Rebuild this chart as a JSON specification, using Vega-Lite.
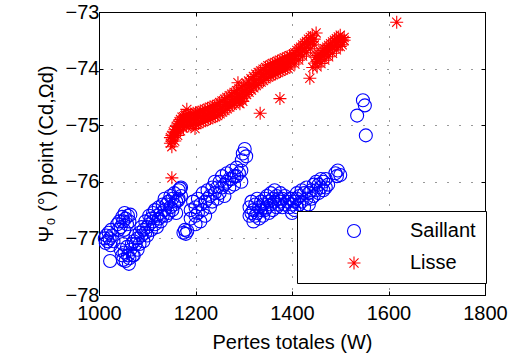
{
 "$schema": "https://vega.github.io/schema/vega-lite/v6.json",
 "width": 386, "height": 283,
 "autosize": "none",
 "padding": {"left": 99, "top": 12, "right": 33, "bottom": 63},
 "config": {
  "view": {"stroke": "#000", "strokeWidth": 1},
  "font": "Liberation Sans",
  "axis": {"labelFont": "Liberation Sans", "labelFontSize": 20, "labelColor": "#000", "titleFont": "Liberation Sans", "titleFontSize": 20, "titleFontWeight": "normal", "titleColor": "#000", "domainColor": "#000", "tickColor": "#000", "gridColor": "#000", "gridDash": [1, 11], "gridOpacity": 0.8, "labelFlush": false, "labelOverlap": false}
 },
 "data": {"values": [
  {"x":1012,"y":-77.0,"g":"Saillant"},{"x":1015,"y":-76.95,"g":"Saillant"},{"x":1018,"y":-77.05,"g":"Saillant"},{"x":1020,"y":-76.9,"g":"Saillant"},{"x":1022,"y":-77.0,"g":"Saillant"},{"x":1025,"y":-76.85,"g":"Saillant"},{"x":1027,"y":-76.95,"g":"Saillant"},{"x":1030,"y":-77.05,"g":"Saillant"},{"x":1014,"y":-77.08,"g":"Saillant"},{"x":1024,"y":-77.12,"g":"Saillant"},{"x":1023,"y":-77.4,"g":"Saillant"},
  {"x":1038,"y":-76.75,"g":"Saillant"},{"x":1042,"y":-76.7,"g":"Saillant"},{"x":1045,"y":-76.8,"g":"Saillant"},{"x":1048,"y":-76.62,"g":"Saillant"},{"x":1050,"y":-76.7,"g":"Saillant"},{"x":1053,"y":-76.55,"g":"Saillant"},{"x":1055,"y":-76.65,"g":"Saillant"},{"x":1058,"y":-76.75,"g":"Saillant"},{"x":1060,"y":-76.6,"g":"Saillant"},{"x":1063,"y":-76.7,"g":"Saillant"},{"x":1065,"y":-76.58,"g":"Saillant"},{"x":1040,"y":-76.85,"g":"Saillant"},{"x":1052,"y":-76.85,"g":"Saillant"},
  {"x":1045,"y":-77.2,"g":"Saillant"},{"x":1048,"y":-77.3,"g":"Saillant"},{"x":1050,"y":-77.1,"g":"Saillant"},{"x":1053,"y":-77.25,"g":"Saillant"},{"x":1055,"y":-77.4,"g":"Saillant"},{"x":1058,"y":-77.15,"g":"Saillant"},{"x":1060,"y":-77.3,"g":"Saillant"},{"x":1063,"y":-77.35,"g":"Saillant"},{"x":1065,"y":-77.2,"g":"Saillant"},{"x":1068,"y":-77.1,"g":"Saillant"},{"x":1070,"y":-77.3,"g":"Saillant"},{"x":1050,"y":-77.38,"g":"Saillant"},{"x":1062,"y":-77.45,"g":"Saillant"},
  {"x":1072,"y":-77.05,"g":"Saillant"},{"x":1072,"y":-77.3,"g":"Saillant"},{"x":1076,"y":-77.1,"g":"Saillant"},{"x":1076,"y":-76.95,"g":"Saillant"},{"x":1080,"y":-77.2,"g":"Saillant"},{"x":1080,"y":-77.0,"g":"Saillant"},{"x":1084,"y":-76.9,"g":"Saillant"},{"x":1084,"y":-77.1,"g":"Saillant"},{"x":1088,"y":-76.95,"g":"Saillant"},{"x":1088,"y":-76.8,"g":"Saillant"},{"x":1092,"y":-77.05,"g":"Saillant"},{"x":1092,"y":-76.85,"g":"Saillant"},{"x":1096,"y":-76.7,"g":"Saillant"},{"x":1096,"y":-76.9,"g":"Saillant"},{"x":1100,"y":-76.8,"g":"Saillant"},{"x":1100,"y":-76.95,"g":"Saillant"},{"x":1104,"y":-76.6,"g":"Saillant"},{"x":1104,"y":-76.75,"g":"Saillant"},{"x":1108,"y":-76.85,"g":"Saillant"},{"x":1108,"y":-76.65,"g":"Saillant"},{"x":1112,"y":-76.55,"g":"Saillant"},{"x":1112,"y":-76.7,"g":"Saillant"},{"x":1116,"y":-76.75,"g":"Saillant"},{"x":1116,"y":-76.5,"g":"Saillant"},{"x":1120,"y":-76.6,"g":"Saillant"},{"x":1120,"y":-76.8,"g":"Saillant"},{"x":1124,"y":-76.45,"g":"Saillant"},{"x":1124,"y":-76.65,"g":"Saillant"},{"x":1128,"y":-76.55,"g":"Saillant"},{"x":1128,"y":-76.7,"g":"Saillant"},{"x":1132,"y":-76.4,"g":"Saillant"},{"x":1132,"y":-76.6,"g":"Saillant"},{"x":1136,"y":-76.5,"g":"Saillant"},{"x":1136,"y":-76.3,"g":"Saillant"},{"x":1140,"y":-76.6,"g":"Saillant"},{"x":1140,"y":-76.4,"g":"Saillant"},{"x":1144,"y":-76.35,"g":"Saillant"},{"x":1144,"y":-76.55,"g":"Saillant"},{"x":1148,"y":-76.45,"g":"Saillant"},{"x":1148,"y":-76.25,"g":"Saillant"},{"x":1152,"y":-76.3,"g":"Saillant"},{"x":1152,"y":-76.5,"g":"Saillant"},{"x":1156,"y":-76.2,"g":"Saillant"},{"x":1156,"y":-76.4,"g":"Saillant"},{"x":1160,"y":-76.35,"g":"Saillant"},{"x":1160,"y":-76.55,"g":"Saillant"},{"x":1165,"y":-76.15,"g":"Saillant"},{"x":1165,"y":-76.3,"g":"Saillant"},{"x":1170,"y":-76.1,"g":"Saillant"},{"x":1170,"y":-76.25,"g":"Saillant"},{"x":1164,"y":-76.33,"g":"Saillant"},{"x":1168,"y":-76.12,"g":"Saillant"},
  {"x":1175,"y":-76.9,"g":"Saillant"},{"x":1180,"y":-76.92,"g":"Saillant"},{"x":1183,"y":-76.87,"g":"Saillant"},{"x":1178,"y":-76.85,"g":"Saillant"},
  {"x":1190,"y":-76.5,"g":"Saillant"},{"x":1190,"y":-76.65,"g":"Saillant"},{"x":1195,"y":-76.35,"g":"Saillant"},{"x":1200,"y":-76.6,"g":"Saillant"},{"x":1200,"y":-76.75,"g":"Saillant"},{"x":1200,"y":-76.45,"g":"Saillant"},{"x":1205,"y":-76.3,"g":"Saillant"},{"x":1205,"y":-76.55,"g":"Saillant"},{"x":1210,"y":-76.7,"g":"Saillant"},{"x":1210,"y":-76.4,"g":"Saillant"},{"x":1215,"y":-76.2,"g":"Saillant"},{"x":1215,"y":-76.5,"g":"Saillant"},{"x":1220,"y":-76.35,"g":"Saillant"},{"x":1220,"y":-76.6,"g":"Saillant"},{"x":1225,"y":-76.15,"g":"Saillant"},{"x":1225,"y":-76.3,"g":"Saillant"},{"x":1230,"y":-76.45,"g":"Saillant"},{"x":1230,"y":-76.25,"g":"Saillant"},{"x":1235,"y":-76.1,"g":"Saillant"},{"x":1235,"y":-76.35,"g":"Saillant"},{"x":1240,"y":-76.2,"g":"Saillant"},{"x":1240,"y":-76.0,"g":"Saillant"},{"x":1245,"y":-76.3,"g":"Saillant"},{"x":1245,"y":-76.1,"g":"Saillant"},{"x":1250,"y":-76.0,"g":"Saillant"},{"x":1250,"y":-76.2,"g":"Saillant"},{"x":1255,"y":-75.9,"g":"Saillant"},{"x":1255,"y":-76.1,"g":"Saillant"},{"x":1260,"y":-76.05,"g":"Saillant"},{"x":1260,"y":-76.25,"g":"Saillant"},{"x":1265,"y":-75.85,"g":"Saillant"},{"x":1265,"y":-76.0,"g":"Saillant"},{"x":1270,"y":-75.95,"g":"Saillant"},{"x":1270,"y":-76.1,"g":"Saillant"},{"x":1275,"y":-75.8,"g":"Saillant"},{"x":1275,"y":-75.95,"g":"Saillant"},{"x":1280,"y":-75.9,"g":"Saillant"},{"x":1280,"y":-76.05,"g":"Saillant"},{"x":1285,"y":-75.75,"g":"Saillant"},{"x":1285,"y":-75.9,"g":"Saillant"},{"x":1290,"y":-75.85,"g":"Saillant"},{"x":1295,"y":-75.8,"g":"Saillant"},{"x":1295,"y":-76.0,"g":"Saillant"},
  {"x":1298,"y":-75.5,"g":"Saillant"},{"x":1302,"y":-75.42,"g":"Saillant"},{"x":1305,"y":-75.55,"g":"Saillant"},{"x":1296,"y":-75.62,"g":"Saillant"},
  {"x":1312,"y":-76.45,"g":"Saillant"},{"x":1312,"y":-76.6,"g":"Saillant"},{"x":1316,"y":-76.35,"g":"Saillant"},{"x":1316,"y":-76.55,"g":"Saillant"},{"x":1320,"y":-76.5,"g":"Saillant"},{"x":1320,"y":-76.7,"g":"Saillant"},{"x":1324,"y":-76.4,"g":"Saillant"},{"x":1324,"y":-76.6,"g":"Saillant"},{"x":1328,"y":-76.3,"g":"Saillant"},{"x":1328,"y":-76.55,"g":"Saillant"},{"x":1332,"y":-76.45,"g":"Saillant"},{"x":1332,"y":-76.65,"g":"Saillant"},{"x":1336,"y":-76.5,"g":"Saillant"},{"x":1336,"y":-76.35,"g":"Saillant"},{"x":1340,"y":-76.6,"g":"Saillant"},{"x":1340,"y":-76.4,"g":"Saillant"},{"x":1344,"y":-76.3,"g":"Saillant"},{"x":1344,"y":-76.5,"g":"Saillant"},{"x":1348,"y":-76.45,"g":"Saillant"},{"x":1348,"y":-76.25,"g":"Saillant"},{"x":1352,"y":-76.35,"g":"Saillant"},{"x":1352,"y":-76.55,"g":"Saillant"},{"x":1356,"y":-76.4,"g":"Saillant"},{"x":1356,"y":-76.2,"g":"Saillant"},{"x":1360,"y":-76.3,"g":"Saillant"},{"x":1360,"y":-76.5,"g":"Saillant"},{"x":1364,"y":-76.35,"g":"Saillant"},{"x":1364,"y":-76.15,"g":"Saillant"},{"x":1368,"y":-76.45,"g":"Saillant"},{"x":1368,"y":-76.25,"g":"Saillant"},{"x":1372,"y":-76.3,"g":"Saillant"},{"x":1372,"y":-76.4,"g":"Saillant"},{"x":1376,"y":-76.2,"g":"Saillant"},{"x":1376,"y":-76.35,"g":"Saillant"},{"x":1380,"y":-76.3,"g":"Saillant"},{"x":1380,"y":-76.45,"g":"Saillant"},{"x":1385,"y":-76.25,"g":"Saillant"},{"x":1385,"y":-76.4,"g":"Saillant"},{"x":1390,"y":-76.35,"g":"Saillant"},{"x":1395,"y":-76.3,"g":"Saillant"},{"x":1395,"y":-76.45,"g":"Saillant"},
  {"x":1400,"y":-76.4,"g":"Saillant"},{"x":1400,"y":-76.55,"g":"Saillant"},{"x":1400,"y":-76.3,"g":"Saillant"},{"x":1405,"y":-76.5,"g":"Saillant"},{"x":1405,"y":-76.35,"g":"Saillant"},{"x":1410,"y":-76.3,"g":"Saillant"},{"x":1410,"y":-76.45,"g":"Saillant"},{"x":1410,"y":-76.2,"g":"Saillant"},{"x":1415,"y":-76.4,"g":"Saillant"},{"x":1415,"y":-76.25,"g":"Saillant"},{"x":1420,"y":-76.35,"g":"Saillant"},{"x":1420,"y":-76.15,"g":"Saillant"},{"x":1425,"y":-76.2,"g":"Saillant"},{"x":1425,"y":-76.45,"g":"Saillant"},{"x":1430,"y":-76.3,"g":"Saillant"},{"x":1430,"y":-76.1,"g":"Saillant"},{"x":1435,"y":-76.2,"g":"Saillant"},{"x":1435,"y":-76.4,"g":"Saillant"},{"x":1440,"y":-76.15,"g":"Saillant"},{"x":1440,"y":-76.3,"g":"Saillant"},{"x":1445,"y":-76.05,"g":"Saillant"},{"x":1445,"y":-76.25,"g":"Saillant"},{"x":1450,"y":-76.15,"g":"Saillant"},{"x":1450,"y":-76.0,"g":"Saillant"},{"x":1455,"y":-76.2,"g":"Saillant"},{"x":1455,"y":-76.05,"g":"Saillant"},{"x":1460,"y":-76.1,"g":"Saillant"},{"x":1460,"y":-75.95,"g":"Saillant"},{"x":1465,"y":-76.0,"g":"Saillant"},{"x":1465,"y":-76.15,"g":"Saillant"},{"x":1470,"y":-75.95,"g":"Saillant"},{"x":1470,"y":-76.1,"g":"Saillant"},{"x":1475,"y":-76.05,"g":"Saillant"},
  {"x":1490,"y":-75.85,"g":"Saillant"},{"x":1495,"y":-75.8,"g":"Saillant"},{"x":1500,"y":-75.88,"g":"Saillant"},{"x":1493,"y":-75.9,"g":"Saillant"},
  {"x":1547,"y":-74.56,"g":"Saillant"},{"x":1551,"y":-74.65,"g":"Saillant"},{"x":1535,"y":-74.83,"g":"Saillant"},{"x":1553,"y":-75.18,"g":"Saillant"},
  {"x":1148,"y":-75.32,"g":"Lisse"},{"x":1148,"y":-75.22,"g":"Lisse"},{"x":1151,"y":-75.28,"g":"Lisse"},{"x":1151,"y":-75.18,"g":"Lisse"},{"x":1151,"y":-75.38,"g":"Lisse"},{"x":1154,"y":-75.22,"g":"Lisse"},{"x":1154,"y":-75.12,"g":"Lisse"},{"x":1157,"y":-75.18,"g":"Lisse"},{"x":1157,"y":-75.08,"g":"Lisse"},{"x":1157,"y":-75.28,"g":"Lisse"},{"x":1160,"y":-75.12,"g":"Lisse"},{"x":1160,"y":-75.02,"g":"Lisse"},{"x":1163,"y":-75.08,"g":"Lisse"},{"x":1163,"y":-74.98,"g":"Lisse"},{"x":1163,"y":-75.18,"g":"Lisse"},{"x":1166,"y":-75.04,"g":"Lisse"},{"x":1166,"y":-74.94,"g":"Lisse"},{"x":1169,"y":-75.0,"g":"Lisse"},{"x":1169,"y":-74.9,"g":"Lisse"},{"x":1169,"y":-75.1,"g":"Lisse"},{"x":1172,"y":-74.96,"g":"Lisse"},{"x":1172,"y":-74.86,"g":"Lisse"},{"x":1175,"y":-74.95,"g":"Lisse"},{"x":1175,"y":-74.85,"g":"Lisse"},{"x":1175,"y":-75.05,"g":"Lisse"},{"x":1178,"y":-74.93,"g":"Lisse"},{"x":1178,"y":-74.83,"g":"Lisse"},
  {"x":1180,"y":-74.82,"g":"Lisse"},{"x":1182,"y":-74.92,"g":"Lisse"},{"x":1181,"y":-75.02,"g":"Lisse"},
  {"x":1185,"y":-74.81,"g":"Lisse"},{"x":1187,"y":-74.91,"g":"Lisse"},{"x":1186,"y":-75.01,"g":"Lisse"},
  {"x":1190,"y":-74.8,"g":"Lisse"},{"x":1192,"y":-74.9,"g":"Lisse"},{"x":1191,"y":-75.0,"g":"Lisse"},
  {"x":1195,"y":-74.79,"g":"Lisse"},{"x":1197,"y":-74.89,"g":"Lisse"},{"x":1196,"y":-74.99,"g":"Lisse"},
  {"x":1200,"y":-74.78,"g":"Lisse"},{"x":1202,"y":-74.88,"g":"Lisse"},{"x":1201,"y":-74.98,"g":"Lisse"},
  {"x":1205,"y":-74.77,"g":"Lisse"},{"x":1207,"y":-74.87,"g":"Lisse"},{"x":1206,"y":-74.97,"g":"Lisse"},
  {"x":1210,"y":-74.75,"g":"Lisse"},{"x":1212,"y":-74.85,"g":"Lisse"},{"x":1211,"y":-74.95,"g":"Lisse"},
  {"x":1215,"y":-74.74,"g":"Lisse"},{"x":1217,"y":-74.84,"g":"Lisse"},{"x":1216,"y":-74.94,"g":"Lisse"},
  {"x":1220,"y":-74.72,"g":"Lisse"},{"x":1222,"y":-74.82,"g":"Lisse"},{"x":1221,"y":-74.92,"g":"Lisse"},
  {"x":1225,"y":-74.7,"g":"Lisse"},{"x":1227,"y":-74.8,"g":"Lisse"},{"x":1226,"y":-74.9,"g":"Lisse"},
  {"x":1230,"y":-74.68,"g":"Lisse"},{"x":1232,"y":-74.78,"g":"Lisse"},{"x":1231,"y":-74.88,"g":"Lisse"},
  {"x":1235,"y":-74.67,"g":"Lisse"},{"x":1237,"y":-74.77,"g":"Lisse"},{"x":1236,"y":-74.87,"g":"Lisse"},
  {"x":1240,"y":-74.65,"g":"Lisse"},{"x":1242,"y":-74.75,"g":"Lisse"},{"x":1241,"y":-74.85,"g":"Lisse"},
  {"x":1245,"y":-74.63,"g":"Lisse"},{"x":1247,"y":-74.73,"g":"Lisse"},{"x":1246,"y":-74.83,"g":"Lisse"},
  {"x":1250,"y":-74.6,"g":"Lisse"},{"x":1252,"y":-74.7,"g":"Lisse"},{"x":1251,"y":-74.8,"g":"Lisse"},
  {"x":1255,"y":-74.57,"g":"Lisse"},{"x":1257,"y":-74.67,"g":"Lisse"},{"x":1256,"y":-74.77,"g":"Lisse"},
  {"x":1260,"y":-74.54,"g":"Lisse"},{"x":1262,"y":-74.64,"g":"Lisse"},{"x":1261,"y":-74.74,"g":"Lisse"},
  {"x":1265,"y":-74.51,"g":"Lisse"},{"x":1267,"y":-74.61,"g":"Lisse"},{"x":1266,"y":-74.71,"g":"Lisse"},
  {"x":1270,"y":-74.48,"g":"Lisse"},{"x":1272,"y":-74.58,"g":"Lisse"},{"x":1271,"y":-74.68,"g":"Lisse"},
  {"x":1275,"y":-74.45,"g":"Lisse"},{"x":1277,"y":-74.55,"g":"Lisse"},{"x":1276,"y":-74.65,"g":"Lisse"},
  {"x":1280,"y":-74.42,"g":"Lisse"},{"x":1282,"y":-74.52,"g":"Lisse"},{"x":1281,"y":-74.62,"g":"Lisse"},
  {"x":1285,"y":-74.39,"g":"Lisse"},{"x":1287,"y":-74.49,"g":"Lisse"},{"x":1286,"y":-74.59,"g":"Lisse"},
  {"x":1290,"y":-74.36,"g":"Lisse"},{"x":1292,"y":-74.46,"g":"Lisse"},{"x":1291,"y":-74.56,"g":"Lisse"},
  {"x":1295,"y":-74.33,"g":"Lisse"},{"x":1297,"y":-74.43,"g":"Lisse"},{"x":1296,"y":-74.53,"g":"Lisse"},
  {"x":1300,"y":-74.3,"g":"Lisse"},{"x":1302,"y":-74.4,"g":"Lisse"},{"x":1301,"y":-74.5,"g":"Lisse"},
  {"x":1292,"y":-74.62,"g":"Lisse"},{"x":1298,"y":-74.58,"g":"Lisse"},{"x":1288,"y":-74.25,"g":"Lisse"},
  {"x":1305,"y":-74.26,"g":"Lisse"},{"x":1307,"y":-74.36,"g":"Lisse"},{"x":1306,"y":-74.46,"g":"Lisse"},
  {"x":1310,"y":-74.22,"g":"Lisse"},{"x":1312,"y":-74.32,"g":"Lisse"},{"x":1311,"y":-74.42,"g":"Lisse"},
  {"x":1315,"y":-74.18,"g":"Lisse"},{"x":1317,"y":-74.28,"g":"Lisse"},{"x":1316,"y":-74.38,"g":"Lisse"},
  {"x":1320,"y":-74.14,"g":"Lisse"},{"x":1322,"y":-74.24,"g":"Lisse"},{"x":1321,"y":-74.34,"g":"Lisse"},
  {"x":1325,"y":-74.1,"g":"Lisse"},{"x":1327,"y":-74.2,"g":"Lisse"},{"x":1326,"y":-74.3,"g":"Lisse"},
  {"x":1330,"y":-74.07,"g":"Lisse"},{"x":1332,"y":-74.17,"g":"Lisse"},{"x":1331,"y":-74.27,"g":"Lisse"},
  {"x":1335,"y":-74.04,"g":"Lisse"},{"x":1337,"y":-74.14,"g":"Lisse"},{"x":1336,"y":-74.24,"g":"Lisse"},
  {"x":1340,"y":-74.01,"g":"Lisse"},{"x":1342,"y":-74.11,"g":"Lisse"},{"x":1341,"y":-74.21,"g":"Lisse"},
  {"x":1345,"y":-73.98,"g":"Lisse"},{"x":1347,"y":-74.08,"g":"Lisse"},{"x":1346,"y":-74.18,"g":"Lisse"},
  {"x":1350,"y":-73.95,"g":"Lisse"},{"x":1352,"y":-74.05,"g":"Lisse"},{"x":1351,"y":-74.15,"g":"Lisse"},
  {"x":1355,"y":-73.93,"g":"Lisse"},{"x":1357,"y":-74.03,"g":"Lisse"},{"x":1356,"y":-74.13,"g":"Lisse"},
  {"x":1360,"y":-73.91,"g":"Lisse"},{"x":1362,"y":-74.01,"g":"Lisse"},{"x":1361,"y":-74.11,"g":"Lisse"},
  {"x":1365,"y":-73.89,"g":"Lisse"},{"x":1367,"y":-73.99,"g":"Lisse"},{"x":1366,"y":-74.09,"g":"Lisse"},
  {"x":1370,"y":-73.87,"g":"Lisse"},{"x":1372,"y":-73.97,"g":"Lisse"},{"x":1371,"y":-74.07,"g":"Lisse"},
  {"x":1375,"y":-73.85,"g":"Lisse"},{"x":1377,"y":-73.95,"g":"Lisse"},{"x":1376,"y":-74.05,"g":"Lisse"},
  {"x":1380,"y":-73.83,"g":"Lisse"},{"x":1382,"y":-73.93,"g":"Lisse"},{"x":1381,"y":-74.03,"g":"Lisse"},
  {"x":1385,"y":-73.81,"g":"Lisse"},{"x":1387,"y":-73.91,"g":"Lisse"},{"x":1386,"y":-74.01,"g":"Lisse"},
  {"x":1390,"y":-73.79,"g":"Lisse"},{"x":1392,"y":-73.89,"g":"Lisse"},{"x":1391,"y":-73.99,"g":"Lisse"},
  {"x":1395,"y":-73.77,"g":"Lisse"},{"x":1397,"y":-73.87,"g":"Lisse"},{"x":1396,"y":-73.97,"g":"Lisse"},
  {"x":1398,"y":-73.78,"g":"Lisse"},{"x":1402,"y":-73.85,"g":"Lisse"},{"x":1402,"y":-73.75,"g":"Lisse"},{"x":1406,"y":-73.82,"g":"Lisse"},{"x":1406,"y":-73.72,"g":"Lisse"},{"x":1406,"y":-73.92,"g":"Lisse"},{"x":1410,"y":-73.78,"g":"Lisse"},{"x":1410,"y":-73.68,"g":"Lisse"},{"x":1414,"y":-73.75,"g":"Lisse"},{"x":1414,"y":-73.65,"g":"Lisse"},{"x":1414,"y":-73.85,"g":"Lisse"},{"x":1418,"y":-73.72,"g":"Lisse"},{"x":1418,"y":-73.62,"g":"Lisse"},{"x":1422,"y":-73.68,"g":"Lisse"},{"x":1422,"y":-73.58,"g":"Lisse"},{"x":1422,"y":-73.78,"g":"Lisse"},{"x":1426,"y":-73.65,"g":"Lisse"},{"x":1426,"y":-73.55,"g":"Lisse"},{"x":1430,"y":-73.62,"g":"Lisse"},{"x":1430,"y":-73.52,"g":"Lisse"},{"x":1430,"y":-73.72,"g":"Lisse"},{"x":1434,"y":-73.58,"g":"Lisse"},{"x":1434,"y":-73.48,"g":"Lisse"},{"x":1438,"y":-73.55,"g":"Lisse"},{"x":1438,"y":-73.45,"g":"Lisse"},{"x":1438,"y":-73.65,"g":"Lisse"},{"x":1442,"y":-73.52,"g":"Lisse"},{"x":1442,"y":-73.42,"g":"Lisse"},{"x":1446,"y":-73.48,"g":"Lisse"},{"x":1446,"y":-73.58,"g":"Lisse"},
  {"x":1448,"y":-73.9,"g":"Lisse"},{"x":1448,"y":-73.8,"g":"Lisse"},{"x":1452,"y":-73.87,"g":"Lisse"},{"x":1452,"y":-73.77,"g":"Lisse"},{"x":1452,"y":-73.97,"g":"Lisse"},{"x":1456,"y":-73.84,"g":"Lisse"},{"x":1456,"y":-73.74,"g":"Lisse"},{"x":1460,"y":-73.81,"g":"Lisse"},{"x":1460,"y":-73.71,"g":"Lisse"},{"x":1460,"y":-73.91,"g":"Lisse"},{"x":1464,"y":-73.78,"g":"Lisse"},{"x":1464,"y":-73.68,"g":"Lisse"},{"x":1468,"y":-73.75,"g":"Lisse"},{"x":1468,"y":-73.65,"g":"Lisse"},{"x":1468,"y":-73.85,"g":"Lisse"},{"x":1472,"y":-73.72,"g":"Lisse"},{"x":1472,"y":-73.62,"g":"Lisse"},{"x":1476,"y":-73.69,"g":"Lisse"},{"x":1476,"y":-73.59,"g":"Lisse"},{"x":1476,"y":-73.79,"g":"Lisse"},{"x":1480,"y":-73.66,"g":"Lisse"},{"x":1480,"y":-73.56,"g":"Lisse"},{"x":1484,"y":-73.63,"g":"Lisse"},{"x":1484,"y":-73.53,"g":"Lisse"},{"x":1484,"y":-73.73,"g":"Lisse"},{"x":1488,"y":-73.6,"g":"Lisse"},{"x":1488,"y":-73.5,"g":"Lisse"},{"x":1492,"y":-73.57,"g":"Lisse"},{"x":1492,"y":-73.47,"g":"Lisse"},{"x":1492,"y":-73.67,"g":"Lisse"},{"x":1496,"y":-73.54,"g":"Lisse"},{"x":1496,"y":-73.44,"g":"Lisse"},{"x":1500,"y":-73.51,"g":"Lisse"},{"x":1500,"y":-73.41,"g":"Lisse"},{"x":1500,"y":-73.61,"g":"Lisse"},{"x":1504,"y":-73.48,"g":"Lisse"},{"x":1504,"y":-73.58,"g":"Lisse"},{"x":1508,"y":-73.45,"g":"Lisse"},{"x":1508,"y":-73.5,"g":"Lisse"},
  {"x":1151,"y":-75.93,"g":"Lisse"},{"x":1182,"y":-74.72,"g":"Lisse"},{"x":1199,"y":-75.06,"g":"Lisse"},{"x":1334,"y":-74.79,"g":"Lisse"},{"x":1375,"y":-74.53,"g":"Lisse"},{"x":1437,"y":-74.17,"g":"Lisse"},{"x":1443,"y":-73.98,"g":"Lisse"},{"x":1450,"y":-73.37,"g":"Lisse"},{"x":1617,"y":-73.18,"g":"Lisse"}
 ]},
 "layer": [
  {
   "mark": {"type": "point", "filled": false, "strokeWidth": 1.1, "size": 169, "opacity": 1},
   "encoding": {
    "x": {"field": "x", "type": "quantitative", "scale": {"domain": [1000, 1800], "nice": false, "zero": false},
          "axis": {"values": [1000, 1200, 1400, 1600, 1800], "format": "d", "title": "Pertes totales (W)", "grid": true, "tickSize": -4, "labelPadding": 12, "titlePadding": 9}},
    "y": {"field": "y", "type": "quantitative", "scale": {"domain": [-78, -73], "nice": false, "zero": false},
          "axis": {"values": [-78, -77, -76, -75, -74, -73], "format": "d", "title": "Ψ₀ (°) point (Cd,Ωd)", "grid": true, "tickSize": -4, "labelPadding": 4, "titlePadding": 9}},
    "shape": {"field": "g", "type": "nominal",
              "scale": {"domain": ["Saillant", "Lisse"], "range": ["circle", "M0,-1L0,1M-1,0L1,0M-0.7,-0.7L0.7,0.7M-0.7,0.7L0.7,-0.7"]},
              "legend": {"title": null, "orient": "none", "legendX": 198, "legendY": 199, "padding": 10, "symbolOffset": 37, "labelOffset": 46, "rowPadding": 12, "strokeColor": "#000", "fillColor": "#fff", "labelFontSize": 20, "labelFont": "Liberation Sans", "labelColor": "#000", "symbolSize": 169, "symbolStrokeWidth": 1.1}},
    "color": {"field": "g", "type": "nominal",
              "scale": {"domain": ["Saillant", "Lisse"], "range": ["#0000ff", "#ff0000"]},
              "legend": {"title": null, "orient": "none", "legendX": 198, "legendY": 199, "padding": 10, "symbolOffset": 37, "labelOffset": 46, "rowPadding": 12, "strokeColor": "#000", "fillColor": "#fff", "labelFontSize": 20, "labelFont": "Liberation Sans", "labelColor": "#000", "symbolSize": 169, "symbolStrokeWidth": 1.1}}
   }
  },
  {
   "mark": {"type": "point", "opacity": 0},
   "encoding": {
    "x": {"field": "x", "type": "quantitative", "axis": {"orient": "top", "values": [1000, 1200, 1400, 1600, 1800], "labels": false, "title": null, "grid": false, "tickSize": -4}},
    "y": {"field": "y", "type": "quantitative", "axis": {"orient": "right", "values": [-78, -77, -76, -75, -74, -73], "labels": false, "title": null, "grid": false, "tickSize": -4}}
   }
  }
 ],
 "resolve": {"axis": {"x": "independent", "y": "independent"}}
}
